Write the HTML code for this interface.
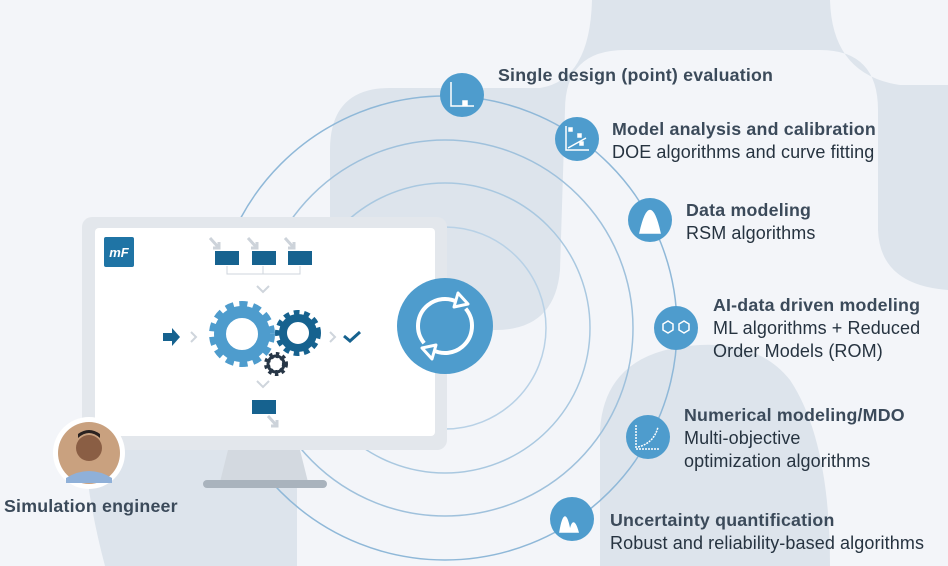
<!DOCTYPE html>
<html><head><meta charset="utf-8"><style>
body{margin:0;width:948px;height:566px;overflow:hidden;background:#f3f5f9;font-family:"Liberation Sans",sans-serif;position:relative}
svg{position:absolute;left:0;top:0}
.t{position:absolute;font-size:18px;line-height:23px;color:#263340;white-space:nowrap;letter-spacing:0.1px}
.t b{color:#3b4a5a;font-size:17.8px;letter-spacing:0.2px}
</style></head><body>
<svg width="948" height="566" viewBox="0 0 948 566">
<path d="M330,150 Q330,88 390,88 L540,88 Q590,80 592,0 L830,0 Q832,75 900,85 L948,85 L948,290 Q880,285 878,230 L878,110 Q878,50 820,50 L625,50 Q565,50 565,110 L560,270 Q555,330 495,330 L390,330 Q330,330 330,270 Z" fill="#dde4ec"/>
<path d="M600,566 L600,430 Q605,350 700,345 Q760,342 790,380 Q830,440 830,566 Z" fill="#dde4ec"/>
<path d="M82,400 L297,400 L297,566 L105,566 Q82,480 82,400 Z" fill="#dde4ec"/>
<g fill="none" stroke-width="1.5">
<circle cx="445" cy="328" r="232" stroke="#8fb8d8"/>
<circle cx="445" cy="328" r="188" stroke="#9fc1dc"/>
<circle cx="445" cy="328" r="145" stroke="#a9c8e0"/>
<circle cx="445" cy="328" r="101" stroke="#b8d1e6"/>
</g>
<rect x="82" y="217" width="365" height="233" rx="10" fill="#e3e7ec"/>
<rect x="95" y="228" width="340" height="208" rx="4" fill="#fff"/>
<path d="M228,450 L300,450 L308,482 L220,482 Z" fill="#d3d9e0"/>
<rect x="203" y="480" width="124" height="8" rx="4" fill="#a9b3bd"/>
<rect x="104" y="237" width="30" height="30" rx="2" fill="#1f74a5"/>
<text x="119" y="257" font-family="Liberation Sans" font-weight="bold" font-style="italic" font-size="13" fill="#fff" text-anchor="middle">mF</text>
<g fill="none" stroke="#cdd3da" stroke-width="3"><path d="M210,238 l9,10 m0,-6 v6 h-6"/><path d="M248,238 l9,10 m0,-6 v6 h-6"/><path d="M285,238 l9,10 m0,-6 v6 h-6"/><path d="M268,416 l9,10 m0,-6 v6 h-6"/></g>
<g fill="#16628f"><rect x="215" y="251" width="24" height="14"/><rect x="252" y="251" width="24" height="14"/><rect x="288" y="251" width="24" height="14"/><rect x="252" y="400" width="24" height="14"/></g>
<path d="M227,266 v8 h73 v-8 M263,266 v8" fill="none" stroke="#cfd5dc" stroke-width="1"/>
<path d="M257,286 l6,6 6,-6" fill="none" stroke="#cfd5dc" stroke-width="2"/>
<path d="M257,381 l6,6 6,-6" fill="none" stroke="#cfd5dc" stroke-width="2"/>
<path d="M163,333 h9 v-5 l8,9 -8,9 v-5 h-9z" fill="#16628f"/>
<path d="M191,332 l5,5 -5,5 M330,332 l5,5 -5,5" fill="none" stroke="#cfd5dc" stroke-width="2"/>
<path d="M344,336 l6,5 10,-9" fill="none" stroke="#16628f" stroke-width="3"/>
<circle cx="242" cy="334" r="26" fill="none" stroke="#4e9ccd" stroke-width="14" stroke-dasharray="7 5"/>
<circle cx="242" cy="334" r="22" fill="none" stroke="#4e9ccd" stroke-width="12"/>
<circle cx="298" cy="333" r="18" fill="none" stroke="#16628f" stroke-width="10" stroke-dasharray="5 4"/>
<circle cx="298" cy="333" r="15" fill="none" stroke="#16628f" stroke-width="8"/>
<circle cx="276" cy="364" r="9" fill="none" stroke="#273646" stroke-width="6" stroke-dasharray="3 3"/>
<circle cx="276" cy="364" r="8" fill="none" stroke="#273646" stroke-width="3"/>
<circle cx="445" cy="326" r="48" fill="#4e9ccd"/>
<circle cx="445" cy="326" r="27" fill="none" stroke="#fff" stroke-width="4" stroke-dasharray="74 11 74 11" transform="rotate(-40 445 326)"/>
<path d="M458,293 l10,11 -14,3z" fill="#4e9ccd" stroke="#fff" stroke-width="3" stroke-linejoin="round"/>
<path d="M432,359 l-10,-11 14,-3z" fill="#4e9ccd" stroke="#fff" stroke-width="3" stroke-linejoin="round"/>
<g fill="#4e9ccd">
<circle cx="462" cy="95" r="22"/><circle cx="577" cy="139" r="22"/><circle cx="650" cy="220" r="22"/>
<circle cx="676" cy="328" r="22"/><circle cx="648" cy="437" r="22"/><circle cx="572" cy="519" r="22"/>
</g>
<g fill="none" stroke="#fff" stroke-width="1.5">
<path d="M451,82 v24 h23"/><rect x="463" y="101" width="4" height="4" fill="#fff"/>
<path d="M566,126 v24 h23 M568,148 l18,-10"/><rect x="569" y="128" width="3" height="3" fill="#fff"/><rect x="578" y="134" width="3" height="3" fill="#fff"/><rect x="580" y="142" width="3" height="3" fill="#fff"/>
<path d="M640,233 q10,-45 20,0 z" fill="#fff"/>
<path d="M663,324 l5,-3 5,3 v6 l-5,3 -5,-3z M679,324 l5,-3 5,3 v6 l-5,3 -5,-3z"/>
<path d="M636,425 v24 h24 M638,447 q16,-4 20,-20" stroke-dasharray="2 1"/>
<path d="M560,532 q5,-30 10,0 q3,-18 8,0 z" fill="#fff"/>
</g>
<circle cx="89" cy="453" r="36" fill="#fff"/>
<circle cx="89" cy="453" r="31" fill="#c9a17f"/>
<circle cx="89" cy="448" r="13" fill="#8a5e44"/>
<path d="M78,438 q11,-10 22,0 v-4 q-11,-8 -22,0z" fill="#2a2220"/>
<path d="M66,478 q23,-14 46,0 v5 h-46z" fill="#8fb0d8"/>
</svg>
<div class="t" style="left:498px;top:64px"><b>Single design (point) evaluation</b></div>
<div class="t" style="left:612px;top:118px"><b>Model analysis and calibration</b><br>DOE algorithms and curve fitting</div>
<div class="t" style="left:686px;top:199px"><b>Data modeling</b><br>RSM algorithms</div>
<div class="t" style="left:713px;top:294px"><b>AI-data driven modeling</b><br>ML algorithms + Reduced<br>Order Models (ROM)</div>
<div class="t" style="left:684px;top:404px"><b>Numerical modeling/MDO</b><br>Multi-objective<br>optimization algorithms</div>
<div class="t" style="left:610px;top:509px"><b>Uncertainty quantification</b><br>Robust and reliability-based algorithms</div>
<div class="t" style="left:4px;top:495px"><b>Simulation engineer</b></div>
</body></html>
